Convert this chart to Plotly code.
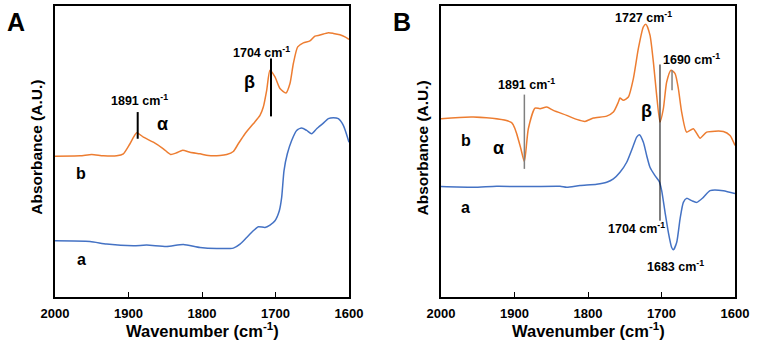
import plotly.graph_objects as go

# ---------------- Data ----------------
# Panel A, curve b (orange)
a_b_wn = [2000, 1966, 1950.1, 1934.2, 1916.1, 1907.0, 1898.0, 1888.9, 1879.8, 1866.2, 1852.6, 1842.6,
          1834.5, 1826.3, 1816.3, 1802.7, 1791.4, 1775.5, 1766.4, 1757.4, 1750.6, 1741.5, 1730.2, 1721.1,
          1716.6, 1712.0, 1707.5, 1700.7, 1693.9, 1685.7, 1680.3, 1675.7, 1669.8, 1662.1, 1653.1, 1646.3,
          1639.5, 1628.1, 1621.3, 1612.3, 1605.5, 1600]
a_b_abs = [1.403, 1.407, 1.42, 1.407, 1.407, 1.427, 1.527, 1.637, 1.593, 1.543, 1.477, 1.42,
           1.437, 1.463, 1.443, 1.427, 1.41, 1.41, 1.42, 1.45, 1.527, 1.627, 1.727, 1.81,
           1.893, 2.06, 2.26, 2.193, 2.077, 2.033, 2.127, 2.327, 2.493, 2.533, 2.553, 2.6,
           2.61, 2.633, 2.627, 2.613, 2.593, 2.567]
# Panel A, curve a (blue)
a_a_wn = [2000, 1952.4, 1929.7, 1893.4, 1875.3, 1848.1, 1825.4, 1802.7, 1780.0, 1757.4, 1748.3, 1739.2,
          1730.2, 1723.4, 1714.3, 1707.5, 1700.7, 1694.8, 1691.6, 1688.4, 1683.9, 1678.0, 1671.2, 1664.4,
          1657.6, 1650.8, 1644.0, 1634.9, 1628.1, 1621.3, 1614.5, 1607.7, 1600]
a_a_abs = [0.56, 0.553, 0.527, 0.51, 0.517, 0.503, 0.523, 0.493, 0.483, 0.487, 0.527, 0.593,
           0.66, 0.70, 0.693, 0.717, 0.76, 0.86, 0.993, 1.26, 1.427, 1.56, 1.66, 1.683,
           1.66, 1.627, 1.677, 1.733, 1.777, 1.787, 1.777, 1.71, 1.543]
# Panel B, curve b (orange)
b_b_wn = [2000, 1956.0, 1903.9, 1892.5, 1886.6, 1881.2, 1872.1, 1865.3, 1856.2, 1847.2, 1829.0, 1815.4,
          1804.1, 1792.7, 1774.6, 1765.5, 1758.7, 1756.5, 1751.9, 1745.1, 1738.3, 1731.5, 1724.7, 1721.1,
          1715.7, 1711.1, 1706.6, 1702.1, 1697.5, 1693.0, 1687.1, 1681.6, 1677.1, 1672.6, 1665.8, 1656.7,
          1647.6, 1638.6, 1615.9, 1606.8, 1600]
b_b_abs = [1.777, 1.793, 1.737, 1.51, 1.35, 1.677, 1.883, 1.877, 1.893, 1.86, 1.81, 1.77,
           1.75, 1.783, 1.803, 1.843, 1.943, 1.983, 1.96, 1.993, 2.177, 2.477, 2.693, 2.717,
           2.61, 2.343, 2.01, 1.743, 1.877, 2.143, 2.26, 2.227, 2.077, 1.843, 1.643, 1.677,
           1.583, 1.643, 1.65, 1.61, 1.51]
# Panel B, curve a (blue)
b_a_wn = [2000, 1956.0, 1924.3, 1878.9, 1838.1, 1829.0, 1810.9, 1788.2, 1774.6, 1765.5, 1756.5, 1747.4,
          1738.3, 1733.8, 1730.2, 1724.7, 1720.2, 1715.7, 1708.9, 1703.0, 1699.8, 1695.2, 1690.7, 1686.2,
          1683.9, 1679.4, 1674.8, 1670.3, 1665.8, 1659.0, 1652.2, 1643.1, 1634.0, 1615.9, 1600]
b_a_abs = [1.1, 1.093, 1.103, 1.1, 1.103, 1.093, 1.11, 1.123, 1.143, 1.177, 1.243, 1.343,
           1.51, 1.593, 1.617, 1.543, 1.41, 1.293, 1.21, 1.15, 1.06, 0.843, 0.643, 0.493,
           0.47, 0.543, 0.777, 0.943, 0.983, 0.96, 0.943, 0.993, 1.06, 1.06, 1.03]

x_ticks = [2000, 1900, 1800, 1700, 1600]

ORANGE = "#ED7D31"
BLUE = "#4472C4"
FONT = "Liberation Sans, Arial, sans-serif"

fig = go.Figure()
fig.add_trace(go.Scatter(x=a_b_wn, y=a_b_abs, mode="lines", line=dict(color=ORANGE, width=1.5, shape="spline", smoothing=0.6), xaxis="x", yaxis="y", showlegend=False))
fig.add_trace(go.Scatter(x=a_a_wn, y=a_a_abs, mode="lines", line=dict(color=BLUE, width=1.5, shape="spline", smoothing=0.6), xaxis="x", yaxis="y", showlegend=False))
fig.add_trace(go.Scatter(x=b_b_wn, y=b_b_abs, mode="lines", line=dict(color=ORANGE, width=1.5, shape="spline", smoothing=0.6), xaxis="x2", yaxis="y2", showlegend=False))
fig.add_trace(go.Scatter(x=b_a_wn, y=b_a_abs, mode="lines", line=dict(color=BLUE, width=1.5, shape="spline", smoothing=0.6), xaxis="x2", yaxis="y2", showlegend=False))

xax = dict(range=[2000, 1600], tickvals=x_ticks, ticks="inside", ticklen=5, tickcolor="black",
           showline=True, linecolor="black", linewidth=1.5, mirror=True, showgrid=False, zeroline=False,
           automargin=False, ticklabelstandoff=4,
           tickfont=dict(family=FONT, size=13, color="black", weight="bold"))
yax = dict(range=[0, 2.9], showticklabels=False, ticks="", showline=True, linecolor="black",
           linewidth=1.5, mirror=True, showgrid=False, zeroline=False, automargin=False)

fig.update_layout(
    width=758, height=347, margin=dict(l=0, r=0, t=0, b=0, autoexpand=False),
    paper_bgcolor="white", plot_bgcolor="white",
    xaxis=dict(domain=[0.0726, 0.4604], anchor="y", **xax),
    yaxis=dict(domain=[0.1441, 0.9827], anchor="x", **yax),
    xaxis2=dict(domain=[0.5818, 0.9697], anchor="y2", **xax),
    yaxis2=dict(domain=[0.1441, 0.9827], anchor="x2", **yax),
)

# Marker lines
fig.add_shape(type="line", xref="x", yref="y", x0=1887.5, x1=1887.5, y0=1.577, y1=1.843, line=dict(color="black", width=2))
fig.add_shape(type="line", xref="x", yref="y", x0=1706.1, x1=1706.1, y0=1.8, y1=2.377, line=dict(color="black", width=2))
fig.add_shape(type="line", xref="x2", yref="y2", x0=1886.6, x1=1886.6, y0=1.277, y1=2.017, line=dict(color="#7F7F7F", width=1.5))
fig.add_shape(type="line", xref="x2", yref="y2", x0=1702.1, x1=1702.1, y0=0.76, y1=2.317, line=dict(color="black", width=1))
fig.add_shape(type="line", xref="x2", yref="y2", x0=1685.7, x1=1685.7, y0=2.06, y1=2.26, line=dict(color="#7F7F7F", width=1.5))

def ann(text, x, y, xr, yr, size, **kw):
    fig.add_annotation(text=text, x=x, y=y, xref=xr, yref=yr, showarrow=False,
                       xanchor="center", yanchor="middle",
                       font=dict(family=FONT, size=size, color="black", weight="bold"), **kw)

# Panel A labels
ann("1891 cm<sup>-1</sup>", 1884.4, 1.967, "x", "y", 12.5)
ann("α", 1853.5, 1.727, "x", "y", 18)
ann("1704 cm<sup>-1</sup>", 1718.8, 2.443, "x", "y", 12.5)
ann("β", 1734.7, 2.143, "x", "y", 18)
ann("b", 1964.6, 1.227, "x", "y", 16)
ann("a", 1964.6, 0.377, "x", "y", 16)
# Panel B labels
ann("1891 cm<sup>-1</sup>", 1883.4, 2.127, "x2", "y2", 12.5)
ann("α", 1922, 1.483, "x2", "y2", 18)
ann("b", 1966, 1.56, "x2", "y2", 16)
ann("a", 1966, 0.893, "x2", "y2", 16)
ann("β", 1720.2, 1.85, "x2", "y2", 18)
ann("1727 cm<sup>-1</sup>", 1724.7, 2.793, "x2", "y2", 12.5)
ann("1690 cm<sup>-1</sup>", 1659.0, 2.367, "x2", "y2", 12.5)
ann("1704 cm<sup>-1</sup>", 1733.8, 0.683, "x2", "y2", 12.5)
ann("1683 cm<sup>-1</sup>", 1681.6, 0.31, "x2", "y2", 12.5)

# Axis titles
for cx in (0.2665, 0.776):
    ann("Wavenumber (cm<sup>-1</sup>)", cx, 0.049, "paper", "paper", 16.5)
ann("Absorbance (A.U.)", 0.0488, 0.577, "paper", "paper", 15.5, textangle=-90)
ann("Absorbance (A.U.)", 0.558, 0.575, "paper", "paper", 15.5, textangle=-90)

# Panel letters
ann("A", 16 / 758, 1 - 22 / 347, "paper", "paper", 25)
ann("B", 402 / 758, 1 - 22 / 347, "paper", "paper", 25)

fig.write_html("out.html")
